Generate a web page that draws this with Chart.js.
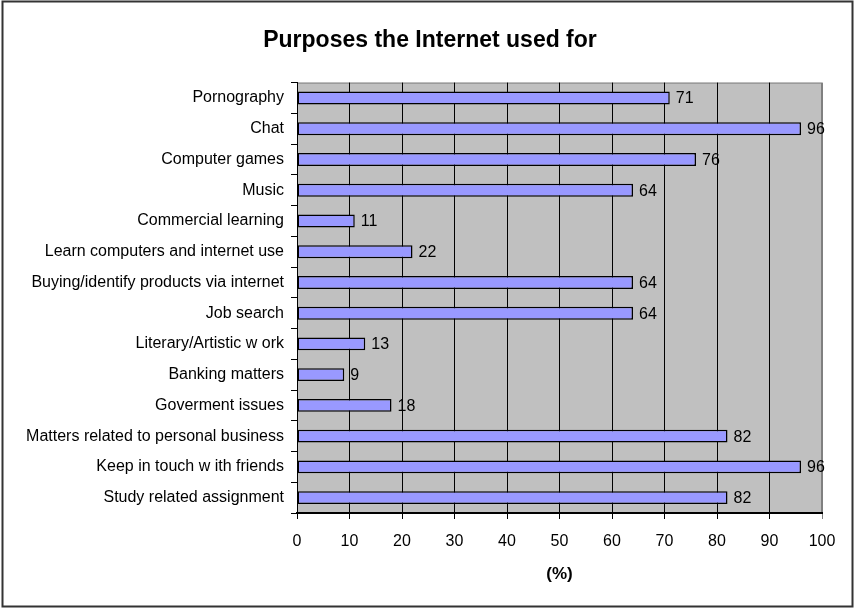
<!DOCTYPE html>
<html>
<head>
<meta charset="utf-8">
<title>Purposes the Internet used for</title>
<script src="https://cdn.jsdelivr.net/npm/chart.js@4.4.1/dist/chart.umd.min.js"></script>
<style>
    body { margin: 0; background: #fff; overflow: hidden; }
    #wrap { width: 854px; height: 608px; }
</style>
</head>
<body>
<div id="wrap"><canvas id="chartPurpose"></canvas></div>
<script>
/* 데이터 */
var categories = [
    'Pornography',
    'Chat',
    'Computer games',
    'Music',
    'Commercial learning',
    'Learn computers and internet use',
    'Buying/identify products via internet',
    'Job search',
    'Literary/Artistic w ork',
    'Banking matters',
    'Goverment issues',
    'Matters related to personal business',
    'Keep in touch w ith friends',
    'Study related assignment'
];
var percentValues = [71, 96, 76, 64, 11, 22, 64, 64, 13, 9, 18, 82, 96, 82];
var xTicks = [0, 10, 20, 30, 40, 50, 60, 70, 80, 90, 100];

Chart.defaults.font.family = 'Arial, "Liberation Sans", sans-serif';
Chart.defaults.color = '#000';

/* 회색 플롯 배경 + 바깥 테두리 */
var plotBackground = {
    id: 'plotBackground',
    beforeDraw: function (chart) {
        var ctx = chart.ctx;
        var a = chart.chartArea;
        ctx.save();
        ctx.fillStyle = '#fff';
        ctx.fillRect(0, 0, chart.width, chart.height);
        ctx.fillStyle = '#C0C0C0';
        ctx.fillRect(a.left, a.top, a.right - a.left, a.bottom - a.top);
        ctx.strokeStyle = '#808080';
        ctx.lineWidth = 1;
        ctx.strokeRect(a.left + 0.5, a.top + 0.5, a.right - a.left - 1, a.bottom - a.top);
        ctx.strokeStyle = '#333';
        ctx.lineWidth = 2;
        ctx.strokeRect(2.5, 1.5, 850, 605);
        ctx.restore();
    }
};

/* 막대 옆 값 표시 */
var valueLabels = {
    id: 'valueLabels',
    afterDatasetsDraw: function (chart) {
        var ctx = chart.ctx;
        var meta = chart.getDatasetMeta(0);
        ctx.save();
        ctx.font = '16px Arial, "Liberation Sans", sans-serif';
        ctx.fillStyle = '#000';
        ctx.textAlign = 'left';
        ctx.textBaseline = 'middle';
        meta.data.forEach(function (bar, i) {
            ctx.fillText(chart.data.datasets[0].data[i], bar.x + 6, bar.y + 1);
        });
        ctx.restore();
    }
};

var chartPurpose = document.getElementById('chartPurpose').getContext('2d');
new Chart(chartPurpose, {
    type: 'bar',
    data: {
        labels: categories,
        datasets: [{
            data: percentValues,
            backgroundColor: '#9999FF',
            borderColor: '#000',
            borderWidth: 1.5,
            borderSkipped: false,
            barPercentage: 0.42,
            categoryPercentage: 1.0
        }]
    },
    options: {
        indexAxis: 'y',
        responsive: true,
        maintainAspectRatio: false,
        animation: false,
        layout: { padding: { left: 6, right: 0, top: 0, bottom: 19 } },
        plugins: {
            legend: { display: false },
            tooltip: { enabled: false },
            title: {
                display: true,
                text: 'Purposes the Internet used for',
                color: '#000',
                font: { size: 23, weight: 'bold' },
                padding: { top: 27, bottom: 28 }
            }
        },
        scales: {
            x: {
                min: xTicks[0],
                max: xTicks[xTicks.length - 1],
                afterBuildTicks: function (scale) {
                    scale.ticks = xTicks.map(function (v) { return { value: v }; });
                },
                afterFit: function (scale) { scale.height = 76; },
                ticks: { font: { size: 16 }, color: '#000', padding: 13, maxRotation: 0 },
                grid: {
                    color: function (c) { return c.tick && c.tick.value === 100 ? '#808080' : '#000'; },
                    lineWidth: 1,
                    tickLength: 6
                },
                border: { color: '#000', width: 2 },
                title: {
                    display: true,
                    text: '(%)',
                    color: '#000',
                    font: { size: 17, weight: 'bold' },
                    padding: { top: 4, bottom: 4 }
                }
            },
            y: {
                afterFit: function (scale) { scale.width = 291; },
                ticks: { font: { size: 16 }, color: '#000', padding: 7 },
                grid: { drawOnChartArea: false, color: '#000', tickLength: 6 },
                border: { color: '#000', width: 1 }
            },
            // 오른쪽 빈 여백용 축 (보이지 않음)
            yRight: {
                type: 'linear',
                position: 'right',
                afterFit: function (scale) { scale.width = 32; },
                ticks: { display: false },
                grid: { display: false, drawTicks: false },
                border: { display: false }
            }
        }
    },
    plugins: [plotBackground, valueLabels]
});
</script>
</body>
</html>
